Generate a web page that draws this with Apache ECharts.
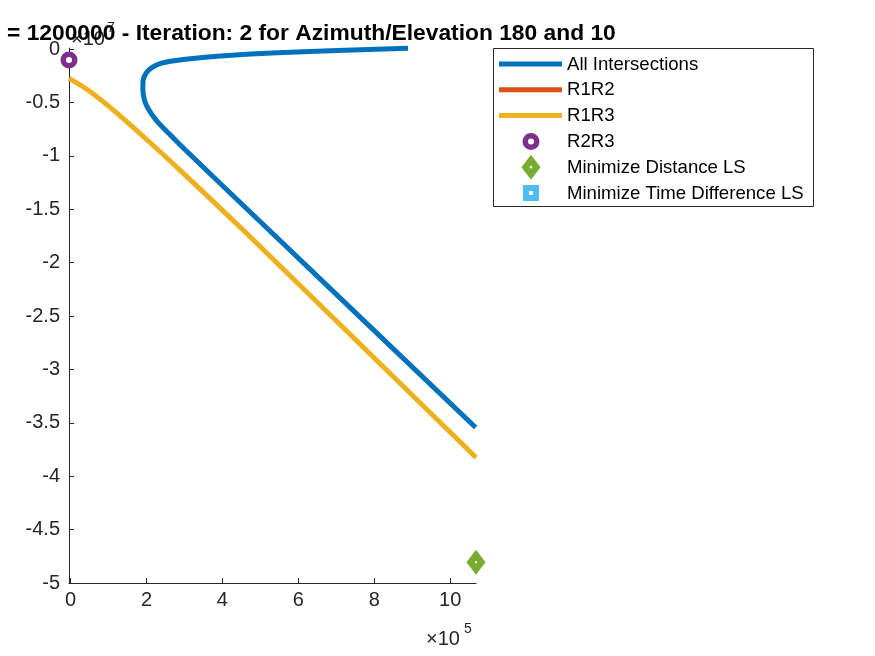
<!DOCTYPE html>
<html>
<head>
<meta charset="utf-8">
<script src="https://cdn.jsdelivr.net/npm/echarts@6.0.0/dist/echarts.min.js"></script>
<style>
  html, body { margin: 0; padding: 0; background: #fff; }
  #chart { width: 875px; height: 656px; }
</style>
</head>
<body>
<div id="chart"></div>
<script>
// values, in plain units (x ~ 1e5, y ~ 1e7)
var allIntersections = [
  [889000, 70000], [560000, -330000], [385000, -680000], [297000, -980000],
  [240000, -1310000], [214000, -1730000], [200000, -2200000], [191200, -2900000],
  [190500, -3680000], [194700, -4775000], [206500, -5710000], [227600, -6740000],
  [259200, -7910000], [301300, -9410000], [500000, -16170000], [1067000, -35440000]
];
var r1r2 = [];
var r1r3 = [
  [-4000, -2740000], [38100, -3650000], [90700, -5060000], [143400, -6650000],
  [209200, -8750000], [288100, -11330000], [454700, -16950000], [1068000, -38250000]
];
var r2r3 = [[-4000, -1030000]];
var minDistLS = [[1068000, -48060000]];
var minTimeLS = [];

var xTicks = [0, 200000, 400000, 600000, 800000, 1000000];
var yTicks = [0, -5e6, -1e7, -1.5e7, -2e7, -2.5e7, -3e7, -3.5e7, -4e7, -4.5e7, -5e7];

var legendNames = ["All Intersections", "R1R2", "R1R3", "R2R3",
  "Minimize Distance LS", "Minimize Time Difference LS"];

var C = {
  blue: "#0072BD", orange: "#D95319", yellow: "#EDB120",
  purple: "#7E2F8E", green: "#77AC30", cyan: "#4DBEEE",
  axis: "#262626"
};
var FONT = "'Liberation Sans', Arial, Helvetica, sans-serif";

// diamond with a small hole in the middle (thick-edged matlab marker)
var DIAMOND = "path://M0,0L9.5,12.5L0,25L-9.5,12.5Z M0,11L-1.3,12.5L0,14L1.3,12.5Z";

var chart = echarts.init(document.getElementById("chart"), null, { renderer: "canvas" });

function lineSeries(name, data, color) {
  return {
    name: name, type: "line", data: data, smooth: 0.3,
    showSymbol: false, clip: false, animation: false,
    lineStyle: { color: color, width: 5, cap: "butt" },
    itemStyle: { color: color }
  };
}

// ---------------- legend, drawn by hand ----------------
var legendTop = 64, legendStep = 25.8;
var legendGraphics = [{
  type: "rect", z: 50,
  shape: { x: 493.5, y: 48.5, width: 320, height: 158 },
  style: { fill: "#fff", stroke: C.axis, lineWidth: 1 }
}];
[C.blue, C.orange, C.yellow].forEach(function (col, i) {
  var y = legendTop + i * legendStep;
  legendGraphics.push({
    type: "line", z: 51,
    shape: { x1: 499, y1: y, x2: 562, y2: y },
    style: { stroke: col, lineWidth: 5 }
  });
});
var cx = 531;
legendGraphics.push({
  type: "circle", z: 51,
  shape: { cx: cx, cy: legendTop + 3 * legendStep, r: 5.75 },
  style: { fill: "#fff", stroke: C.purple, lineWidth: 5.5 }
});
var dy = legendTop + 4 * legendStep;
legendGraphics.push({
  type: "polygon", z: 51,
  shape: { points: [[cx, dy - 12.5], [cx + 9.5, dy], [cx, dy + 12.5], [cx - 9.5, dy]] },
  style: { fill: C.green }
});
legendGraphics.push({
  type: "polygon", z: 52,
  shape: { points: [[cx, dy - 1.6], [cx + 1.6, dy], [cx, dy + 1.6], [cx - 1.6, dy]] },
  style: { fill: "#fff" }
});
var sy = legendTop + 5 * legendStep;
legendGraphics.push({
  type: "rect", z: 51,
  shape: { x: cx - 8, y: sy - 8, width: 16, height: 16 },
  style: { fill: C.cyan }
});
legendGraphics.push({
  type: "rect", z: 52,
  shape: { x: cx - 2, y: sy - 2, width: 4, height: 4 },
  style: { fill: "#fff" }
});
legendNames.forEach(function (n, i) {
  legendGraphics.push({
    type: "text", z: 52, left: 567, top: legendTop + i * legendStep - 9,
    style: { text: n, fill: "#000", font: "18.6px " + FONT }
  });
});

// ---------------- title and exponent labels ----------------
var textGraphics = [
  { type: "text", z: 40, x: 71, y: 29,
    style: { text: "\u00d710", fill: C.axis, font: "20px " + FONT } },
  { type: "text", z: 40, x: 107, y: 21,
    style: { text: "7", fill: C.axis, font: "14px " + FONT } },
  { type: "text", z: 45, x: 7, y: 22,
    style: { text: "= 1200000 - Iteration: 2 for Azimuth/Elevation 180 and 10",
      fill: "#000", font: "bold 22.8px " + FONT } },
  { type: "text", z: 40, x: 426, y: 629,
    style: { text: "\u00d710", fill: C.axis, font: "20px " + FONT } },
  { type: "text", z: 40, x: 464, y: 622,
    style: { text: "5", fill: C.axis, font: "14px " + FONT } }
];

chart.setOption({
  animation: false,
  backgroundColor: "#fff",
  textStyle: { fontFamily: FONT },
  grid: { left: 69, right: 399, top: 48, bottom: 73, containLabel: false },
  xAxis: {
    type: "value", min: -4000, max: 1068000,
    axisLine: { show: true, onZero: false, lineStyle: { color: C.axis, width: 1 } },
    axisTick: { show: true, inside: true, length: 5, customValues: xTicks,
      lineStyle: { color: C.axis, width: 1 } },
    axisLabel: { customValues: xTicks, color: C.axis, fontSize: 20, margin: 7,
      formatter: function (v) { return String(Math.round(v / 1e5)); } },
    splitLine: { show: false }
  },
  yAxis: {
    type: "value", min: -5e7, max: 100000,
    axisLine: { show: true, onZero: false, lineStyle: { color: C.axis, width: 1 } },
    axisTick: { show: true, inside: true, length: 5, customValues: yTicks,
      lineStyle: { color: C.axis, width: 1 } },
    axisLabel: { customValues: yTicks, color: C.axis, fontSize: 20, margin: 9,
      formatter: function (v) { return String(Math.round(v / 1e6) / 10); } },
    splitLine: { show: false }
  },
  graphic: legendGraphics.concat(textGraphics),
  series: [
    lineSeries(legendNames[0], allIntersections, C.blue),
    lineSeries(legendNames[1], r1r2, C.orange),
    lineSeries(legendNames[2], r1r3, C.yellow),
    {
      name: legendNames[3], type: "scatter", data: r2r3, clip: false,
      symbol: "circle", symbolSize: 11.5,
      itemStyle: { color: "#fff", borderColor: C.purple, borderWidth: 5.5, opacity: 1 }
    },
    {
      name: legendNames[4], type: "scatter", data: minDistLS, clip: false,
      symbol: DIAMOND, symbolSize: [19, 25],
      itemStyle: { color: C.green, opacity: 1 }
    },
    {
      name: legendNames[5], type: "scatter", data: minTimeLS, clip: false,
      symbol: "rect", symbolSize: 16,
      itemStyle: { color: C.cyan, opacity: 1 }
    }
  ]
});
</script>
</body>
</html>
